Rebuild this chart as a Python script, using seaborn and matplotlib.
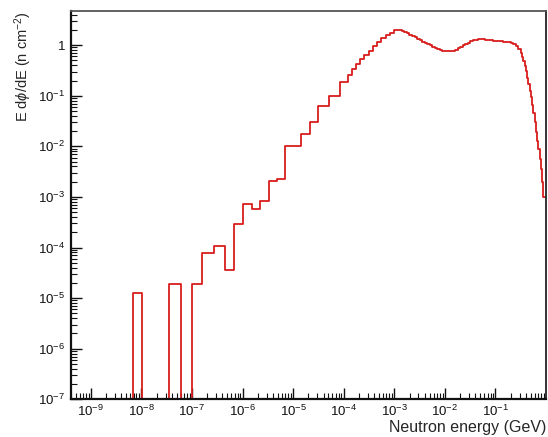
import numpy as np
import pandas as pd
import matplotlib
matplotlib.use("Agg")
import matplotlib.pyplot as plt
from matplotlib.ticker import FixedLocator, LogLocator, FuncFormatter, NullFormatter
import seaborn as sns

# low energy part: irregular bins, edges in log10(E/GeV), flux E dphi/dE (0 = empty bin)
low_edges = [-9.4, -8.16, -7.99, -7.45, -7.21, -7.0, -6.8, -6.57, -6.34, -6.17,
             -5.99, -5.81, -5.65, -5.48, -5.32, -5.16, -5.0, -4.835, -4.67, -4.51,
             -4.3, -4.075, -3.92, -3.837, -3.755, -3.67, -3.59, -3.505, -3.42, -3.34,
             -3.255, -3.17, -3.09, -3.0]
low_flux = [0, 1.28e-5, 0, 1.93e-5, 0, 1.93e-5, 7.8e-5, 1.07e-4, 3.6e-5, 2.9e-4,
            7.2e-4, 5.7e-4, 8.5e-4, 2.05e-3, 2.3e-3, 1.0e-2, 1.03e-2, 1.74e-2, 3.0e-2, 6.3e-2,
            0.098, 0.188, 0.263, 0.34, 0.43, 0.53, 0.64, 0.78, 0.95, 1.16,
            1.36, 1.58, 1.78]

# 1 MeV - 300 MeV, bins of 0.05 decade, values as log10(flux)
mid_edges = np.linspace(-3.0, -0.5, 51)
mid_logflux = [0.292, 0.295, 0.29, 0.275, 0.255, 0.235, 0.21, 0.185, 0.155, 0.125,
               0.095, 0.07, 0.045, 0.02, -0.005, -0.03, -0.055, -0.078, -0.095, -0.107,
               -0.115, -0.12, -0.12, -0.115, -0.095, -0.065, -0.035, -0.005, 0.025, 0.05,
               0.075, 0.095, 0.11, 0.118, 0.12, 0.118, 0.112, 0.105, 0.098, 0.092,
               0.087, 0.083, 0.078, 0.072, 0.064, 0.055, 0.04, 0.015, -0.025, -0.08]

# high energy fall-off, bins of 0.025 decade
tail_edges = np.linspace(-0.5, -0.025, 20)
tail_logflux = [-0.15, -0.23, -0.32, -0.42, -0.52, -0.65, -0.77, -0.9, -1.03, -1.19,
                -1.35, -1.52, -1.72, -1.9, -2.05, -2.25, -2.45, -2.7, -3.0]

edges = 10.0 ** np.concatenate([low_edges, mid_edges[1:], tail_edges[1:]])
flux = np.concatenate([low_flux, 10.0 ** np.array(mid_logflux), 10.0 ** np.array(tail_logflux)])
centers = np.sqrt(edges[:-1] * edges[1:])
df = pd.DataFrame({'energy': centers, 'flux': flux})
df = df[df['flux'] > 0]

sns.set_style("ticks")
plt.rcParams['font.family'] = ['Liberation Sans', 'DejaVu Sans']
plt.rcParams['mathtext.fontset'] = 'custom'
plt.rcParams['mathtext.rm'] = 'Liberation Sans'
plt.rcParams['mathtext.it'] = 'Liberation Sans:italic'

fig = plt.figure(figsize=(5.48, 4.37), dpi=100)
ax = fig.add_axes([0.129, 0.0863, 0.8674, 0.8892])

sns.histplot(data=df, x='energy', weights='flux', bins=list(edges), element='step',
             fill=False, color='#d81c1c', linewidth=1.3, ax=ax)

ax.set_xscale('log')
ax.set_yscale('log')
ax.set_xlim(4e-10, 1.0)
ax.set_ylim(1e-7, 4.8)

ax.xaxis.set_major_locator(FixedLocator(10.0 ** np.arange(-9, 0)))
ax.xaxis.set_minor_locator(LogLocator(base=10, subs=np.arange(2, 10), numticks=30))
ax.yaxis.set_major_locator(FixedLocator(10.0 ** np.arange(-7, 1)))
ax.yaxis.set_minor_locator(LogLocator(base=10, subs=np.arange(2, 10), numticks=30))
fmt = FuncFormatter(lambda v, p: '1' if abs(v - 1) < 1e-9 else r'$10^{%d}$' % round(np.log10(v)))
ax.xaxis.set_major_formatter(fmt)
ax.yaxis.set_major_formatter(fmt)
ax.xaxis.set_minor_formatter(NullFormatter())
ax.yaxis.set_minor_formatter(NullFormatter())

ax.tick_params(which='both', direction='in', colors='#111111', labelsize=9.5)
ax.tick_params(which='major', length=8, width=1)
ax.tick_params(which='minor', length=4, width=0.8)
ax.tick_params(axis='x', pad=3)
ax.tick_params(axis='y', pad=4)

for side in ['left', 'bottom']:
    ax.spines[side].set_linewidth(1.6)
    ax.spines[side].set_color('#111111')
ax.spines['top'].set_linewidth(1.3)
ax.spines['top'].set_color('#555555')
ax.spines['right'].set_linewidth(1.3)
ax.spines['right'].set_color('#222222')

ax.set_xlabel('Neutron energy (GeV)', loc='right', fontsize=11.5, labelpad=1)
ax.set_ylabel(r'E d$\phi$/dE (n cm$^{-2}$)', loc='top', fontsize=10.5, labelpad=3)

fig.savefig('out.png', dpi=100)
